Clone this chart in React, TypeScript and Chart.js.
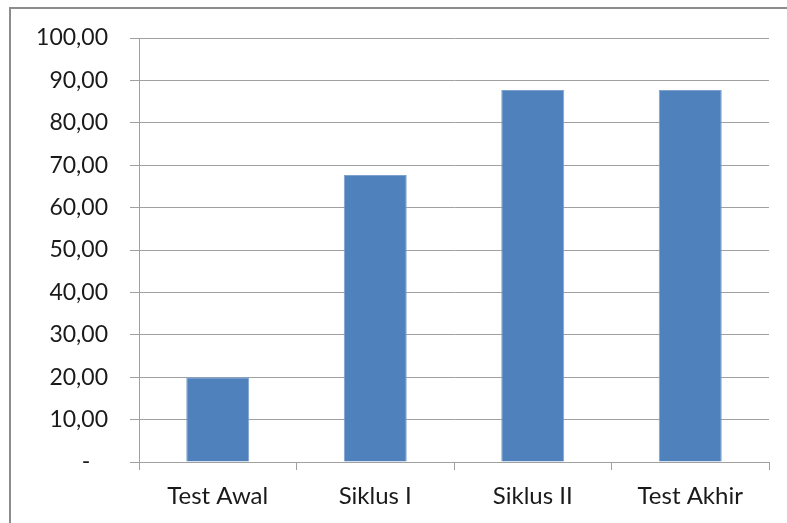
import React, { useEffect, useRef } from "react";
import { Chart, registerables } from "chart.js";

Chart.register(...registerables);

const categories = ["Test Awal", "Siklus I", "Siklus II", "Test Akhir"];
const values = [20.0, 67.7, 87.75, 87.75];
const yTicks = [0, 10, 20, 30, 40, 50, 60, 70, 80, 90, 100];

const FONT = "Lato, 'Open Sans', sans-serif";

export default function App() {
  const ref = useRef<HTMLCanvasElement | null>(null);

  useEffect(() => {
    if (!ref.current) return;
    const chart = new Chart(ref.current, {
      type: "bar",
      data: {
        labels: categories,
        datasets: [
          {
            data: values,
            backgroundColor: "#4f81bd",
            borderColor: "#7fa1cf",
            borderWidth: 1,
            categoryPercentage: 0.4,
            barPercentage: 1.0,
          },
        ],
      },
      options: {
        animation: false,
        responsive: false,
        maintainAspectRatio: false,
        layout: { padding: { left: 0, top: 38, right: 18, bottom: 0 } },
        plugins: { legend: { display: false }, tooltip: { enabled: false } },
        scales: {
          x: {
            offset: true,
            grid: {
              offset: true,
              drawOnChartArea: false,
              drawTicks: true,
              tickLength: 8,
              color: "#a0a0a0",
              lineWidth: 1,
            },
            border: { display: true, color: "#a0a0a0", width: 1 },
            ticks: {
              color: "#1a1a1a",
              font: { family: FONT, size: 24 },
              padding: 12,
              maxRotation: 0,
            },
            afterFit: (s: any) => {
              s.height = 61;
            },
          },
          y: {
            min: 0,
            max: 100,
            afterBuildTicks: (s: any) => {
              s.ticks = yTicks.map((v) => ({ value: v }));
            },
            grid: {
              color: "#a0a0a0",
              lineWidth: 1,
              drawTicks: true,
              tickLength: 9,
            },
            border: { display: true, color: "#a0a0a0", width: 1 },
            ticks: {
              color: "#1a1a1a",
              font: { family: FONT, size: 23 },
              padding: 22,
              callback: (v: any) =>
                Number(v) === 0 ? "-   " : Number(v).toFixed(2).replace(".", ","),
            },
            afterFit: (s: any) => {
              s.width = 139;
            },
          },
        },
      },
    });
    return () => chart.destroy();
  }, []);

  return (
    <div style={{ position: "absolute", left: 0, top: 0, width: 787, height: 523, background: "#fff", overflow: "hidden" }}>
      <div
        style={{
          position: "absolute",
          left: 9,
          top: 7,
          width: 800,
          height: 540,
          borderLeft: "2px solid #8c8c8c",
          borderTop: "2px solid #8c8c8c",
        }}
      />
      <canvas ref={ref} width={787} height={523} style={{ position: "absolute", left: 0, top: 0 }} />
    </div>
  );
}
